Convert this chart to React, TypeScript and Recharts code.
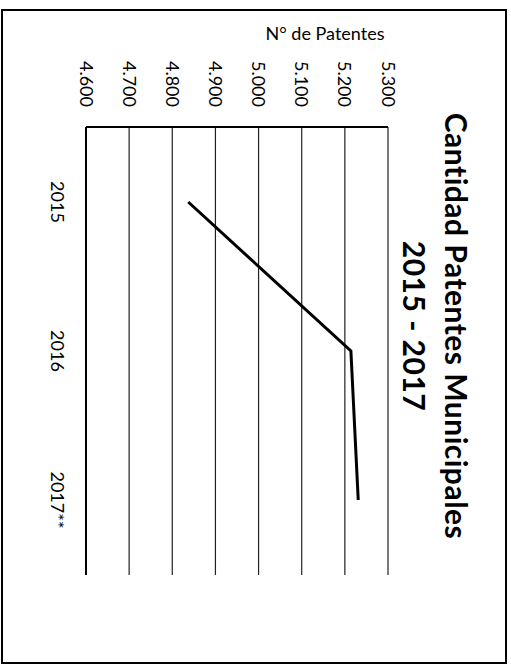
import { LineChart, Line, XAxis, YAxis, CartesianGrid } from 'recharts';

const years = ['2015', '2016', '2017**'];
const patentes = [4837, 5214, 5231];
const valueTicks = [4600, 4700, 4800, 4900, 5000, 5100, 5200, 5300];
const titleLines = ['Cantidad Patentes Municipales', '2015 - 2017'];
const axisTitle = 'N° de Patentes';

const data = years.map((year, i) => ({ year, value: patentes[i] }));

const font = 'Lato, "Open Sans", sans-serif';

const fmt = (v: number) => v.toLocaleString('es-CL').replace(',', '.');

const AxisTitle = (props: any) => {
  const vb = props.viewBox || { x: 0, y: 0 };
  const x = vb.x + 40;
  const y = vb.y + 63;
  return (
    <text
      x={x}
      y={y}
      transform={`rotate(-90, ${x}, ${y})`}
      textAnchor="middle"
      fontFamily={font}
      fontSize={18}
      fill="#000"
    >
      {axisTitle}
    </text>
  );
};

export default function App() {
  return (
    <div style={{ position: 'fixed', left: 0, top: 0, width: 511, height: 666, background: '#fff', overflow: 'hidden' }}>
      {/* chart drawn landscape, then turned a quarter clockwise like the scan */}
      <div
        style={{
          position: 'absolute',
          left: 0,
          top: 0,
          width: 666,
          height: 511,
          transformOrigin: '0 0',
          transform: 'translate(511px, 0) rotate(90deg)',
        }}
      >
        <div style={{ position: 'absolute', left: 9, top: 4, width: 651, height: 502, border: '2px solid #000' }} />
        <div
          style={{
            position: 'absolute',
            left: 0,
            top: 33,
            width: 652,
            textAlign: 'center',
            fontFamily: font,
            fontWeight: 700,
            fontSize: 30,
            letterSpacing: 0.5,
            lineHeight: '42px',
            color: '#000',
          }}
        >
          {titleLines.map((t) => (
            <div key={t}>{t}</div>
          ))}
        </div>
        <div style={{ position: 'absolute', left: 0, top: 0 }}>
          <LineChart width={666} height={511} data={data} margin={{ top: 123, right: 91, bottom: 0, left: 0 }}>
            <CartesianGrid vertical={false} stroke="#222" strokeWidth={1.2} />
            <XAxis
              dataKey="year"
              height={86}
              padding={{ left: 75, right: 75 }}
              tickLine={false}
              tickSize={0}
              tickMargin={22}
              axisLine={{ stroke: '#000', strokeWidth: 2 }}
              tick={{ fill: '#000', fontFamily: font, fontSize: 18 }}
            />
            <YAxis
              width={127}
              domain={[4600, 5300]}
              ticks={valueTicks}
              interval={0}
              tickFormatter={fmt}
              tickLine={false}
              tickSize={0}
              tickMargin={20}
              axisLine={{ stroke: '#000', strokeWidth: 2 }}
              tick={{ fill: '#000', fontFamily: font, fontSize: 18 }}
              label={<AxisTitle />}
            />
            <Line
              dataKey="value"
              type="linear"
              stroke="#000"
              strokeWidth={3}
              dot={false}
              isAnimationActive={false}
            />
          </LineChart>
        </div>
      </div>
    </div>
  );
}
